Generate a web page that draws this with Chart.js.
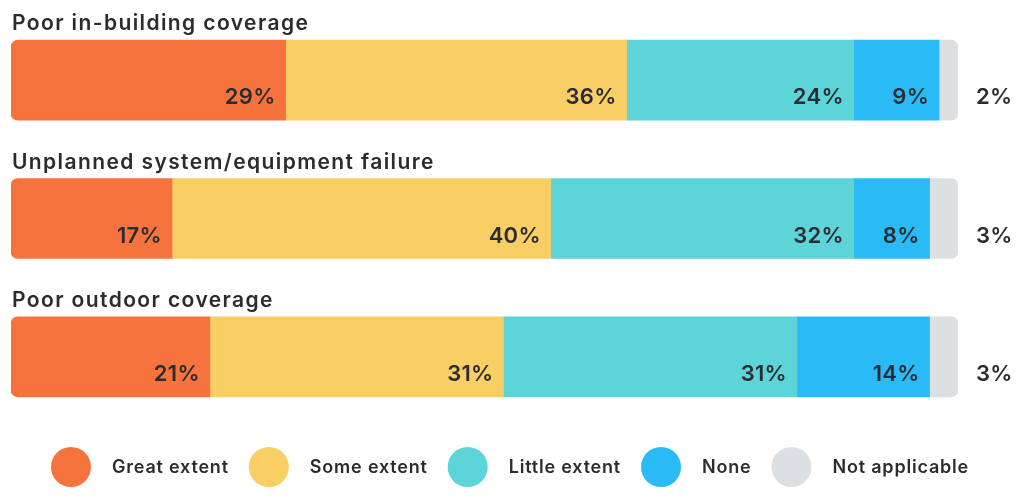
<!DOCTYPE html>
<html>
<head>
<meta charset="utf-8">
<script src="https://cdn.jsdelivr.net/npm/chart.js@4"></script>
<style>
  html, body { margin: 0; padding: 0; background: #fff; }
  #wrap { width: 1020px; height: 500px; }
</style>
</head>
<body>
<div id="wrap"><canvas id="grafico" width="1020" height="500"></canvas></div>
<script>
// categorias e séries
const categorias = ['Poor in-building coverage', 'Unplanned system/equipment failure', 'Poor outdoor coverage'];
const rotulos = ['Great extent', 'Some extent', 'Little extent', 'None', 'Not applicable'];
const greatExtent = [29, 17, 21];
const someExtent = [36, 40, 31];
const littleExtent = [24, 32, 31];
const none = [9, 8, 14];
const notApplicable = [2, 3, 3];
const cores = ['#F7733E', '#F8CE65', '#5DD4D7', '#2ABAF6', '#DDE0E3'];

const corTexto = '#2A2C31';
const fonte = 'Inter, "Open Sans", sans-serif';
const raio = 7;

const series = [greatExtent, someExtent, littleExtent, none, notApplicable];

//monta os datasets, arredondando só as pontas da barra
const datasets = series.map((dados, i) => {
    let br = 0;
    if (i === 0) br = { topLeft: raio, bottomLeft: raio, topRight: 0, bottomRight: 0 };
    if (i === series.length - 1) br = { topLeft: 0, bottomLeft: 0, topRight: raio, bottomRight: raio };
    return {
        label: rotulos[i],
        data: dados,
        backgroundColor: cores[i],
        borderWidth: 0,
        borderRadius: br,
        borderSkipped: false,
        barThickness: 80
    };
});

//títulos, valores e legenda desenhados no canvas
const desenhos = {
    id: 'desenhos',
    afterDatasetsDraw(chart) {
        const ctx = chart.ctx;
        const yScale = chart.scales.y;
        const area = chart.chartArea;
        ctx.save();
        ctx.fillStyle = corTexto;

        //títulos acima das barras
        ctx.font = '600 21px ' + fonte;
        ctx.letterSpacing = '1.4px';
        ctx.textAlign = 'left';
        ctx.textBaseline = 'alphabetic';
        categorias.forEach((cat, j) => {
            const topo = yScale.getPixelForValue(j) - 40;
            ctx.fillText(cat, area.left + 1, topo - 10);
        });

        //valores dentro das barras
        ctx.font = '600 22px ' + fonte;
        ctx.letterSpacing = '0.3px';
        chart.data.datasets.forEach((ds, i) => {
            const meta = chart.getDatasetMeta(i);
            meta.data.forEach((el, j) => {
                const fundo = el.y + 40;
                if (i === chart.data.datasets.length - 1) {
                    ctx.textAlign = 'left';
                    ctx.fillText(ds.data[j] + '%', area.right + 18, fundo - 16);
                } else {
                    ctx.textAlign = 'right';
                    ctx.fillText(ds.data[j] + '%', el.x - 10, fundo - 16);
                }
            });
        });

        //legenda com círculos grandes
        ctx.font = '600 18px ' + fonte;
        ctx.letterSpacing = '0.8px';
        ctx.textAlign = 'left';
        ctx.textBaseline = 'middle';
        const larguras = rotulos.map(r => ctx.measureText(r).width);
        let total = 0;
        larguras.forEach((w, i) => { total += 40 + 21 + w + (i < larguras.length - 1 ? 20 : 0); });
        let x = (chart.width - total) / 2;
        const yLeg = 467;
        rotulos.forEach((r, i) => {
            ctx.fillStyle = cores[i];
            ctx.beginPath();
            ctx.arc(x + 20, yLeg, 20, 0, Math.PI * 2);
            ctx.fill();
            ctx.fillStyle = corTexto;
            ctx.fillText(r, x + 61, yLeg + 1);
            x += 40 + 21 + larguras[i] + 20;
        });
        ctx.restore();
    }
};

const chart = new Chart(document.getElementById('grafico'), {
    type: 'bar',
    data: {
        labels: categorias,
        datasets: datasets
    },
    options: {
        indexAxis: 'y',
        responsive: false,
        animation: false,
        layout: { padding: { left: 11, right: 62, top: 11, bottom: 74 } },
        scales: {
            x: { stacked: true, min: 0, max: 100, display: false },
            y: { stacked: true, display: false }
        },
        plugins: {
            legend: { display: false },
            tooltip: { enabled: false }
        }
    },
    plugins: [desenhos]
});
</script>
</body>
</html>
